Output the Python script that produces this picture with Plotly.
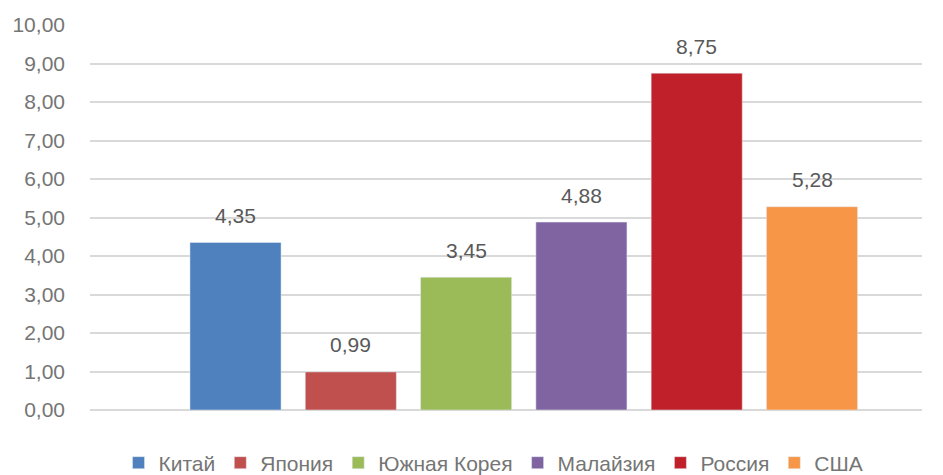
import plotly.graph_objects as go

countries = ["Китай", "Япония", "Южная Корея", "Малайзия", "Россия", "США"]
values = [4.35, 0.99, 3.45, 4.88, 8.75, 5.28]
colors = ["#4e81bd", "#c0504d", "#9bbb59", "#8064a2", "#c0202a", "#f79646"]

fig = go.Figure()
for i, (name, val, col) in enumerate(zip(countries, values, colors)):
    fig.add_trace(go.Bar(x=[i], y=[val], name=name, marker_color=col,
                         width=0.79, hoverinfo="name+y"))
    # data label above each bar, Excel-style padding
    fig.add_annotation(x=i, y=val, text=f"{val:.2f}".replace(".", ","),
                       showarrow=False, yanchor="middle", yshift=27,
                       font=dict(size=21, color="#595959"))

# page body has an 8px default margin, so the figure is sized to what stays visible
fig.update_layout(
    width=935, height=467,
    margin=dict(l=82, r=21, t=17, b=65, autoexpand=False),
    paper_bgcolor="white", plot_bgcolor="white",
    separators=", ",
    barmode="overlay",
    font=dict(family="Liberation Sans, Arial, sans-serif", size=21, color="#757575"),
    showlegend=True,
    legend=dict(orientation="h", x=0.485, xanchor="center", y=-0.1377, yanchor="middle",
                font=dict(size=21, color="#757575"), itemwidth=30,
                traceorder="normal"),
)
fig.update_xaxes(range=[-1.262, 5.954], showticklabels=False, showgrid=False,
                 zeroline=False, showline=False)
fig.update_yaxes(range=[0, 10], dtick=1, tickformat=".2f", showgrid=True,
                 gridcolor="#d9d9d9", gridwidth=1.5, zeroline=True,
                 zerolinecolor="#d9d9d9", zerolinewidth=1.5, showline=False,
                 ticks="", ticklabelstandoff=24, automargin=False,
                 tickfont=dict(size=21, color="#757575"))

fig.write_html("out.html")
